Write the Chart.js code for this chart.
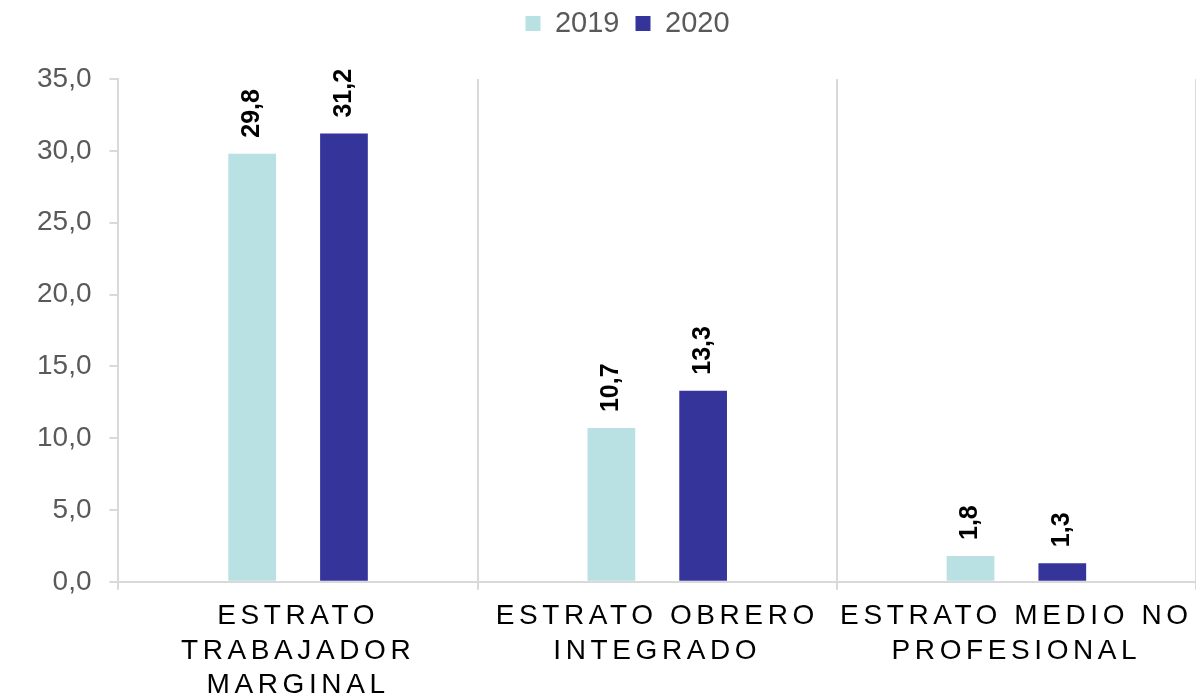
<!DOCTYPE html>
<html lang="es">
<head>
    <meta charset="UTF-8">
    <title>Estratos 2019 - 2020</title>
    <script src="https://cdn.jsdelivr.net/npm/chart.js@4.4.0/dist/chart.umd.min.js"></script>
    <style>
        html, body { margin: 0; padding: 0; background: #fff; }
        #wrap { width: 1196px; height: 698px; }
    </style>
</head>
<body>
    <div id="wrap"><canvas id="chart"></canvas></div>
    <script>
        const categories = [
            ['ESTRATO', 'TRABAJADOR', 'MARGINAL'],
            ['ESTRATO OBRERO', 'INTEGRADO'],
            ['ESTRATO MEDIO NO', 'PROFESIONAL']
        ];
        const values2019 = [29.8, 10.7, 1.8];
        const values2020 = [31.2, 13.3, 1.3];
        const seriesNames = ['2019', '2020'];

        const FONT = '"Liberation Sans", Arial, sans-serif';
        const fmt = v => v.toFixed(1).replace('.', ',');

        // rotated value labels above each bar
        const barLabels = {
            id: 'barLabels',
            afterDatasetsDraw(chart) {
                const ctx = chart.ctx;
                ctx.save();
                ctx.font = 'bold 25px ' + FONT;
                ctx.fillStyle = '#000';
                ctx.textAlign = 'left';
                ctx.textBaseline = 'middle';
                chart.data.datasets.forEach((ds, i) => {
                    chart.getDatasetMeta(i).data.forEach((bar, j) => {
                        ctx.save();
                        ctx.translate(bar.x, bar.y - 16);
                        ctx.rotate(-Math.PI / 2);
                        ctx.fillText(fmt(ds.data[j]), 0, 0);
                        ctx.restore();
                    });
                });
                ctx.restore();
            }
        };

        // spaced out category labels, legend moved to where the original has it
        const tweaks = {
            id: 'tweaks',
            afterUpdate(chart) {
                const xs = chart.scales.x;
                if (xs && !xs._spaced) {
                    const orig = xs.drawLabels.bind(xs);
                    xs.drawLabels = function (area) {
                        chart.ctx.save();
                        chart.ctx.letterSpacing = '4.6px';
                        orig(area);
                        chart.ctx.restore();
                    };
                    xs._spaced = true;
                }
            },
            afterLayout(chart) {
                const lg = chart.legend;
                lg.left += 20;
                lg.right += 20;
                lg.top -= 31;
                lg.bottom -= 31;
            }
        };

        new Chart(document.getElementById('chart'), {
            type: 'bar',
            data: {
                labels: categories,
                datasets: [
                    { label: seriesNames[0], data: values2019, backgroundColor: '#B9E0E3' },
                    { label: seriesNames[1], data: values2020, backgroundColor: '#35349A' }
                ]
            },
            options: {
                responsive: true,
                maintainAspectRatio: false,
                animation: false,
                datasets: { bar: { categoryPercentage: 0.511, barPercentage: 0.52 } },
                layout: { padding: { left: 19, right: 0, top: 24, bottom: -14 } },
                plugins: {
                    legend: {
                        position: 'top',
                        labels: {
                            boxWidth: 15, boxHeight: 15, padding: 16,
                            color: '#595959',
                            font: { family: FONT, size: 29 }
                        }
                    },
                    tooltip: { enabled: false }
                },
                scales: {
                    x: {
                        grid: { display: true, drawOnChartArea: true, color: '#D9D9D9', lineWidth: 2, tickLength: 8 },
                        border: { display: true, color: '#D9D9D9', width: 2 },
                        ticks: {
                            color: '#000',
                            padding: 9,
                            maxRotation: 0,
                            autoSkip: false,
                            font: { family: FONT, size: 28, lineHeight: 1.24 }
                        }
                    },
                    y: {
                        min: 0, max: 35,
                        grid: { drawOnChartArea: false, color: '#D9D9D9', lineWidth: 2, tickLength: 9 },
                        border: { display: true, color: '#D9D9D9', width: 2 },
                        ticks: {
                            stepSize: 5,
                            color: '#595959',
                            padding: 18,
                            font: { family: FONT, size: 28 },
                            callback: v => fmt(v)
                        }
                    }
                }
            },
            plugins: [barLabels, tweaks]
        });
    </script>
</body>
</html>
